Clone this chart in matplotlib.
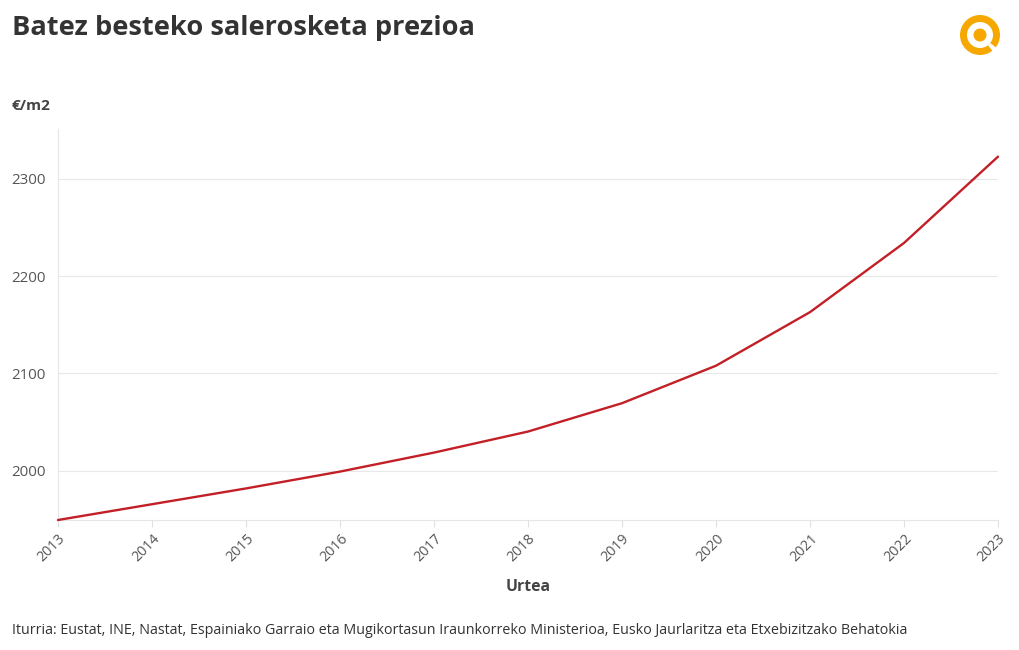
import matplotlib
matplotlib.use("Agg")
import matplotlib.pyplot as plt
from matplotlib.patches import Wedge, Circle

years = [2013, 2014, 2015, 2016, 2017, 2018, 2019, 2020, 2021, 2022, 2023]
prices = [1949.6, 1965.8, 1982.0, 1999.3, 2018.8, 2040.4, 2069.5, 2108.0, 2163.0, 2234.0, 2322.6]
y_ticks = [2000, 2100, 2200, 2300]

title = "Batez besteko salerosketa prezioa"
y_label = "€/m2"
x_label = "Urtea"
source = ("Iturria: Eustat, INE, Nastat, Espainiako Garraio eta Mugikortasun Iraunkorreko "
          "Ministerioa, Eusko Jaurlaritza eta Etxebizitzako Behatokia")

plt.rcParams['font.family'] = ['Open Sans', 'DejaVu Sans']

W, H = 1020, 650
fig = plt.figure(figsize=(W / 100, H / 100), dpi=100)
ax = fig.add_axes([58 / W, 1 - 520 / H, (998 - 58) / W, (520 - 129) / H])

ax.plot(years, prices, color="#c21f26", lw=1.7, solid_joinstyle="round",
        solid_capstyle="round", zorder=3, clip_on=False)

ax.set_xlim(2013, 2023)
ax.set_ylim(1949.6, 2351)
ax.set_xticks(years)
ax.set_xticklabels([str(y) for y in years], rotation=45, ha="right", rotation_mode="anchor")
ax.set_yticks(y_ticks)
ax.set_yticklabels([str(v) for v in y_ticks])

ax.grid(axis="y", color="#e8e8e8", lw=0.8)
ax.set_axisbelow(True)
for s in ["top", "right"]:
    ax.spines[s].set_visible(False)
ax.spines["left"].set_color("#e6e6e6")
ax.spines["bottom"].set_color("#e6e6e6")
ax.spines["left"].set_linewidth(0.8)
ax.spines["bottom"].set_linewidth(0.8)
ax.tick_params(axis="y", length=0, pad=9, labelsize=10.8, labelcolor="#555555")
ax.tick_params(axis="x", length=5, width=0.8, color="#e0e0e0", pad=3, labelsize=10.3, labelcolor="#555555")

fig.text(12 / W, 1 - 28 / H, title, fontsize=19.6, fontweight="bold", color="#333333", va="center", ha="left")
fig.text(12 / W, 1 - 106 / H, y_label, fontsize=11, fontweight="bold", color="#444444", va="center", ha="left")
fig.text(528 / W, 1 - 587 / H, x_label, fontsize=11.3, fontweight="bold", color="#444444", va="center", ha="center")
fig.text(12 / W, 1 - 631 / H, source, fontsize=10.3, color="#333333", va="center", ha="left")

# logo
lax = fig.add_axes([0, 0, 1, 1], zorder=5)
lax.set_xlim(0, W)
lax.set_ylim(H, 0)
lax.axis("off")
orange = "#f7a800"
lax.add_patch(Wedge((980, 35), 20, 0, 360, width=7, color=orange, lw=0))
lax.add_patch(Wedge((980, 35), 21, 38, 52, width=8, color="white", lw=0))
lax.add_patch(Circle((980, 35), 6.5, color=orange, lw=0))

fig.savefig("out.png", dpi=100, facecolor="white")
